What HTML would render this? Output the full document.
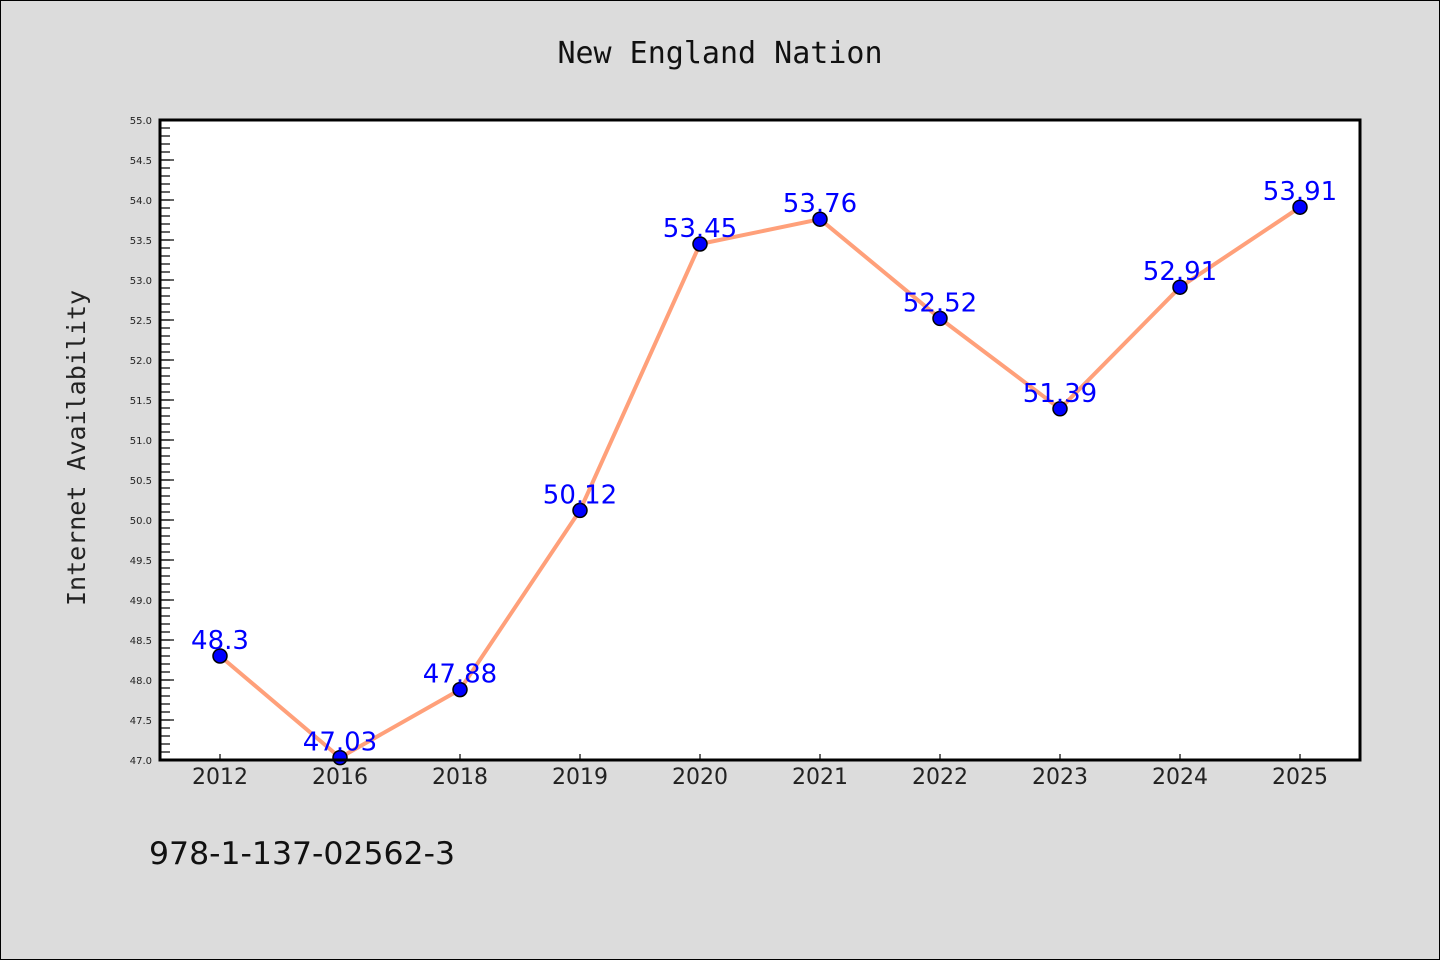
<!DOCTYPE html>
<html><head><meta charset="utf-8"><style>
html,body{margin:0;padding:0;background:#dcdcdc;}
svg{display:block;}
</style></head><body>
<svg width="1440" height="960" xmlns="http://www.w3.org/2000/svg">
<rect x="0.5" y="0.5" width="1439" height="959" fill="#dcdcdc" stroke="#000" stroke-width="1"/>
<text x="720" y="63" text-anchor="middle" font-family="DejaVu Sans Mono, Liberation Mono, monospace" font-size="30" fill="#111">New England Nation</text>
<rect x="160" y="120" width="1200" height="640" fill="#fff"/>
<g id="yticks"></g><g id="xticks"></g>
<polyline id="line" fill="none" stroke="#FFA07A" stroke-width="4" stroke-linejoin="round"/>
<g id="pts"></g><g id="labels"></g>
<rect x="160" y="120" width="1200" height="640" fill="none" stroke="#000" stroke-width="3"/>
<text transform="translate(85,448) rotate(-90)" text-anchor="middle" font-family="DejaVu Sans Mono, Liberation Mono, monospace" font-size="25" fill="#222">Internet Availability</text>
<text x="149" y="864" font-family="DejaVu Sans, Liberation Sans, sans-serif" font-size="31.5" fill="#111">978-1-137-02562-3</text>
</svg>
<script>
const categories=["2012","2016","2018","2019","2020","2021","2022","2023","2024","2025"];
const values=[48.3,47.03,47.88,50.12,53.45,53.76,52.52,51.39,52.91,53.91];
const valueLabels=["48.3","47.03","47.88","50.12","53.45","53.76","52.52","51.39","52.91","53.91"];
const yTicks=[47.0,47.5,48.0,48.5,49.0,49.5,50.0,50.5,51.0,51.5,52.0,52.5,53.0,53.5,54.0,54.5,55.0];
const NS="http://www.w3.org/2000/svg";
const yMin=47,yMax=55,pTop=120,pBot=760,pLeft=160,pRight=1360;
function ys(v){return pBot-(v-yMin)/(yMax-yMin)*(pBot-pTop);}
function xs(i){return pLeft+(pRight-pLeft)/categories.length*(i+0.5);}
function mk(t,a,p){const e=document.createElementNS(NS,t);for(const k in a)e.setAttribute(k,a[k]);p.appendChild(e);return e;}
const yg=document.getElementById('yticks');
for(let k=0;k<=Math.round((yMax-yMin)*10);k++){const y=ys(yMin+k/10);const t=mk('line',{x1:pLeft,x2:pLeft+10,y1:y,y2:y,stroke:'#000','stroke-width':1.2},yg);

}
yTicks.forEach(v=>{const y=ys(v);const t=mk('line',{x1:pLeft,x2:pLeft+14,y1:y,y2:y,stroke:'#000','stroke-width':1.2},yg);


const l=mk('text',{x:152,y:y+4,'text-anchor':'end','font-family':'DejaVu Sans, Liberation Sans, sans-serif','font-size':10,fill:'#222'},yg);l.textContent=v.toFixed(1);

});
const xg=document.getElementById('xticks');
categories.forEach((c,i)=>{const x=xs(i);const t=mk('line',{x1:x,x2:x,y1:pBot,y2:pBot-6,stroke:'#000','stroke-width':1.2},xg);


const l=mk('text',{x:x,y:784,'text-anchor':'middle','font-family':'DejaVu Sans, Liberation Sans, sans-serif','font-size':22,fill:'#222'},xg);l.textContent=c;

});
document.getElementById('line').setAttribute('points',values.map((v,i)=>xs(i)+','+ys(v)).join(' '));
const pg=document.getElementById('pts'),lg=document.getElementById('labels');
values.forEach((v,i)=>{const c=mk('circle',{cx:xs(i),cy:ys(v),r:7,fill:'#0000ff',stroke:'#000','stroke-width':1.5},pg);


const l=mk('text',{x:xs(i),y:ys(v)-7,'text-anchor':'middle','font-family':'DejaVu Sans, Liberation Sans, sans-serif','font-size':26,fill:'#0000ff'},lg);l.textContent=valueLabels[i];

});
</script>
</body></html>
